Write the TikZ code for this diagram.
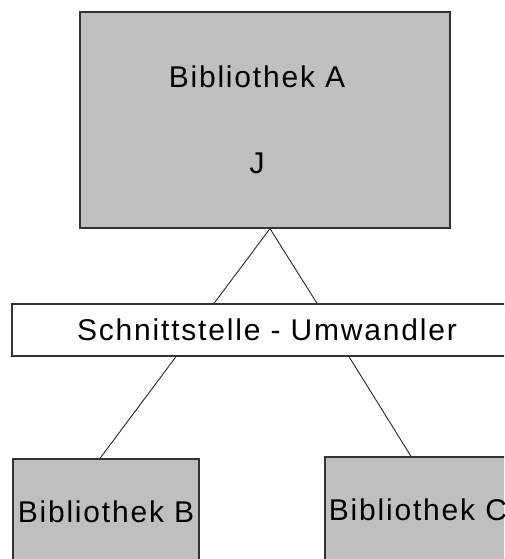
\documentclass[tikz,border=0pt]{standalone}
\usepackage{fontspec}
\setmainfont{Liberation Sans}[LetterSpace=6]
\usetikzlibrary{positioning}
\tikzset{
    lib/.style={
        rectangle,
        draw=black!80,
        line width=1.3pt,
        fill=black!25,
        inner sep=0pt,
        font=\fontsize{30}{36}\selectfont
    },
    iface/.style={
        rectangle,
        draw=black!80,
        line width=1.3pt,
        fill=white,
        inner sep=0pt,
        font=\fontsize{30}{36}\selectfont
    },
    libtext/.style={
        inner sep=0pt,
        align=center,
        font=\fontsize{30}{36}\selectfont
    },
    link/.style={
        draw=black!85,
        line width=0.9pt
    }
}

\begin{document}
\begin{tikzpicture}[x=1pt,y=-1pt]
\clip (0,0) rectangle (504,559);
\useasboundingbox (0,0) rectangle (504,559);
\node[lib, minimum width=370pt, minimum height=216pt] (libA) at (265,120) {};
\node[libtext] (nameA) at (257,120) {Bibliothek A\\[50pt] J};
\node[iface, minimum width=510pt, minimum height=52pt] (conv) at (267,330) {Schnittstelle - Umwandler};
\node[lib, minimum width=186pt, minimum height=106pt] (libB) at (106,512) {Bibliothek B};
\node[lib, minimum width=186pt, minimum height=106pt] (libC) at (418,510) {Bibliothek C};
\path[link]
  ([xshift=5pt]libA.south) -- ([xshift=-53pt]conv.north)
  ([xshift=5pt]libA.south) -- ([xshift=50pt]conv.north)
  ([xshift=-91pt]conv.south) -- ([xshift=-6pt]libB.north)
  ([xshift=82pt]conv.south) -- ([xshift=-7pt]libC.north);
\end{tikzpicture}
\end{document}
